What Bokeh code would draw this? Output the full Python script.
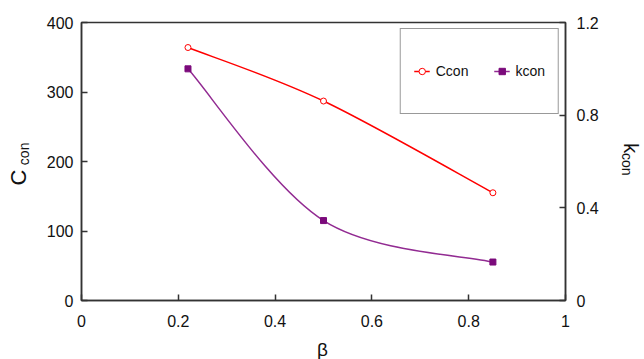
import numpy as np
from bokeh.plotting import figure
from bokeh.models import (Range1d, LinearAxis, FixedTicker, NumeralTickFormatter,
                          Label, Legend, LegendItem, ColumnDataSource)
from bokeh.embed import file_html
from bokeh.resources import INLINE

# ---- data ----
beta = [0.22, 0.50, 0.85]
ccon = [364, 287, 155]
kcon = [1.00, 0.345, 0.166]
series_names = ["Ccon", "kcon"]
x_ticks = [0, 0.2, 0.4, 0.6, 0.8, 1.0]
c_ticks = [0, 100, 200, 300, 400]
k_ticks = [0, 0.4, 0.8, 1.2]

FONT = "Liberation Sans"
AXIS_COLOR = "#333333"
RED = "#FF0000"
PURPLE_LINE = "#922B92"
PURPLE_MARK = "#7B0A7B"


def smooth_segments(xs, ys):
    """Catmull-Rom style bezier control points (spreadsheet 'smoothed line')."""
    x = np.asarray(xs, float)
    y = np.asarray(ys, float)
    n = len(x)
    xp = np.concatenate([[x[0]], x, [x[-1]]])
    yp = np.concatenate([[y[0]], y, [y[-1]]])
    return dict(
        x0=x[:-1], y0=y[:-1], x1=x[1:], y1=y[1:],
        cx0=x[:-1] + (xp[2:n + 1] - xp[0:n - 1]) / 6.0,
        cy0=y[:-1] + (yp[2:n + 1] - yp[0:n - 1]) / 6.0,
        cx1=x[1:] - (xp[3:n + 2] - xp[1:n]) / 6.0,
        cy1=y[1:] - (yp[3:n + 2] - yp[1:n]) / 6.0,
    )


p = figure(width=644, height=359, x_range=Range1d(0, 1), y_range=Range1d(0, 400),
           output_backend="svg", toolbar_location=None,
           min_border_left=81, min_border_right=79, min_border_top=22, min_border_bottom=59)
p.extra_y_ranges = {"k": Range1d(0, 1.2)}
p.grid.visible = False
p.outline_line_color = AXIS_COLOR
p.outline_line_width = 1.5
p.background_fill_color = "white"
p.border_fill_color = "white"

right_axis = LinearAxis(y_range_name="k")
p.add_layout(right_axis, "right")

p.xaxis.ticker = FixedTicker(ticks=x_ticks)
p.xaxis.formatter = NumeralTickFormatter(format="0.[0]")
p.yaxis[0].ticker = FixedTicker(ticks=c_ticks)
right_axis.ticker = FixedTicker(ticks=k_ticks)
right_axis.formatter = NumeralTickFormatter(format="0.[0]")

for ax in [p.xaxis[0], p.yaxis[0], right_axis]:
    ax.axis_line_color = AXIS_COLOR
    ax.axis_line_width = 1.5
    ax.major_tick_line_color = AXIS_COLOR
    ax.major_tick_line_width = 1.5
    ax.major_tick_in = 6
    ax.major_tick_out = 0
    ax.minor_tick_line_color = None
    ax.major_label_text_font = FONT
    ax.major_label_text_font_size = "16px"
    ax.major_label_text_color = "#111111"
p.xaxis.major_label_standoff = 14
p.yaxis[0].major_label_standoff = 8
right_axis.major_label_standoff = 11

# ---- series ----
src_c = ColumnDataSource(smooth_segments(beta, ccon))
src_k = ColumnDataSource(smooth_segments(beta, kcon))

line_c = p.bezier(x0="x0", y0="y0", x1="x1", y1="y1", cx0="cx0", cy0="cy0",
                  cx1="cx1", cy1="cy1", source=src_c, line_color=RED, line_width=1.5)
pts_c = p.scatter(beta, ccon, marker="circle", size=6, line_color=RED,
                  fill_color="white", line_width=1)

line_k = p.bezier(x0="x0", y0="y0", x1="x1", y1="y1", cx0="cx0", cy0="cy0",
                  cx1="cx1", cy1="cy1", source=src_k, line_color=PURPLE_LINE,
                  line_width=1.5, y_range_name="k")
pts_k = p.scatter(beta, kcon, marker="square", size=6, line_color=PURPLE_MARK,
                  fill_color=PURPLE_MARK, y_range_name="k")

legend = Legend(items=[LegendItem(label=series_names[0], renderers=[line_c, pts_c]),
                       LegendItem(label=series_names[1], renderers=[line_k, pts_k])],
                location="top_right", orientation="horizontal")
legend.margin = 6
legend.padding = 13
legend.spacing = 25
legend.glyph_width = 16
legend.glyph_height = 58
legend.label_standoff = 6
legend.label_text_font = FONT
legend.label_text_font_size = "14px"
legend.label_text_color = "#111111"
legend.border_line_color = AXIS_COLOR
legend.border_line_width = 1.5
legend.background_fill_color = "white"
legend.background_fill_alpha = 1
p.add_layout(legend, "center")

# ---- axis titles (with subscripts), placed in side panels so they are not clipped ----
title_style = dict(text_font=FONT, text_color="#111111", text_align="center",
                   text_baseline="middle")
p.add_layout(Label(x=-0.130, y=177, text="C", angle=np.pi / 2, text_font_size="22px",
                   **title_style), "left")
p.add_layout(Label(x=-0.118, y=211, text="con", angle=np.pi / 2, text_font_size="14px",
                   **title_style), "left")
p.add_layout(Label(x=1.136, y=219, text="k", angle=-np.pi / 2, text_font_size="20px",
                   **title_style), "right")
p.add_layout(Label(x=1.128, y=196, text="con", angle=-np.pi / 2, text_font_size="14px",
                   **title_style), "right")
p.add_layout(Label(x=0.498, y=-70, text="β", text_font_size="19px", **title_style),
             "below")

open("out.html", "w").write(file_html(p, INLINE))
